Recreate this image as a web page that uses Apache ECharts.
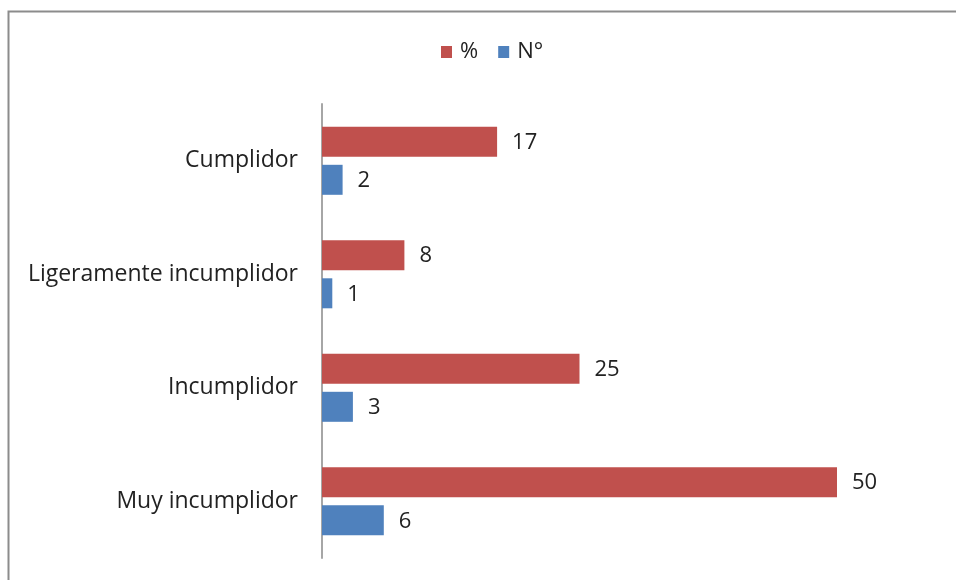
<!DOCTYPE html>
<html>
<head>
<meta charset="utf-8">
<script src="https://cdn.jsdelivr.net/npm/echarts@6/dist/echarts.min.js"></script>
<style>
  html, body { margin: 0; padding: 0; background: #fff; }
  #chart { width: 956px; height: 580px; }
</style>
</head>
<body>
<div id="chart"></div>
<script>
// Chart data
var categories = ['Cumplidor', 'Ligeramente incumplidor', 'Incumplidor', 'Muy incumplidor'];
var pctValues = [17, 8, 25, 50];
var countValues = [2, 1, 3, 6];
var seriesNames = ['%', 'N°'];

var fontFamily = '"Open Sans", "Noto Sans", sans-serif';

var chart = echarts.init(document.getElementById('chart'));

chart.setOption({
    animation: false,
    color: ['#C0504D', '#4F81BD'],
    textStyle: {
        fontFamily: fontFamily
    },

    // Outer frame
    graphic: [{
        type: 'rect',
        left: 6,
        top: 9,
        shape: { width: 1000, height: 1000 },
        style: { fill: 'none', stroke: '#8c8c8c', lineWidth: 2 },
        silent: true
    }],

    legend: {
        data: seriesNames,
        top: 41,
        left: 441,
        icon: 'rect',
        itemWidth: 11,
        itemHeight: 12,
        itemGap: 20,
        padding: 0,
        textStyle: {
            fontSize: 22,
            color: '#222',
            padding: [0, 0, 0, 3]
        }
    },

    grid: {
        left: 322,
        right: 16,
        top: 104,
        bottom: 22,
        containLabel: false
    },

    xAxis: {
        type: 'value',
        min: 0,
        max: 60,
        show: false
    },

    yAxis: {
        type: 'category',
        data: categories,
        inverse: true,
        axisLine: {
            lineStyle: { color: '#a6a6a6', width: 2 }
        },
        axisTick: { show: false },
        axisLabel: {
            fontSize: 23,
            color: '#222',
            margin: 24
        }
    },

    series: [
        {
            name: seriesNames[0],
            type: 'bar',
            data: pctValues,
            barGap: '27%',
            barCategoryGap: '40%',
            label: {
                show: true,
                position: 'right',
                distance: 15,
                offset: [0, 1],
                fontSize: 22,
                color: '#222'
            }
        },
        {
            name: seriesNames[1],
            type: 'bar',
            data: countValues,
            barGap: '27%',
            barCategoryGap: '40%',
            label: {
                show: true,
                position: 'right',
                distance: 15,
                offset: [0, 1],
                fontSize: 22,
                color: '#222'
            }
        }
    ]
});
</script>
</body>
</html>
